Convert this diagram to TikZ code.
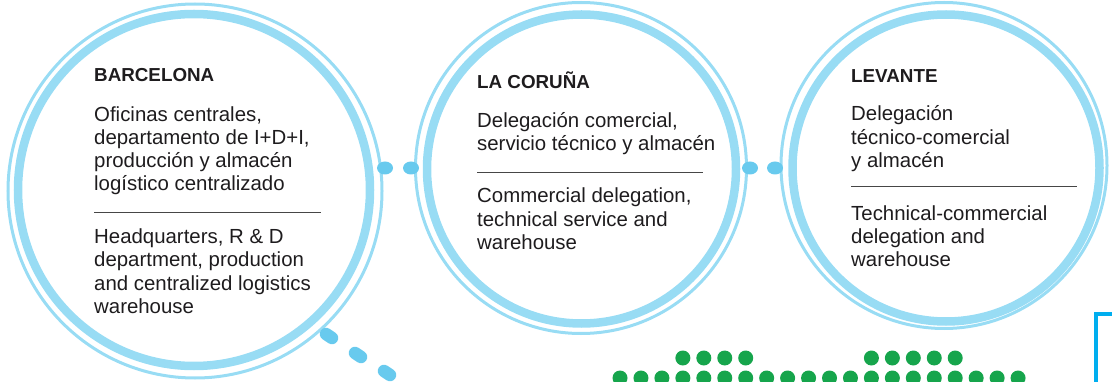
\documentclass[tikz,border=0pt]{standalone}
\usepackage{fontspec}
\setmainfont{Liberation Sans}
\definecolor{ring}{RGB}{152,220,244}
\definecolor{dotblue}{RGB}{104,202,238}
\definecolor{dotgreen}{RGB}{22,165,76}
\definecolor{brk}{RGB}{0,174,239}
\definecolor{txt}{RGB}{30,28,30}
\definecolor{rulegrey}{RGB}{70,70,70}
\begin{document}
\begin{tikzpicture}[x=1pt,y=-1pt,
  thinring/.style={draw=ring, line width=3pt},
  thickring/.style={draw=ring, line width=8.5pt},
  title/.style={anchor=base west, inner sep=0pt, text=txt, font={\fontsize{18.8}{22}\selectfont\bfseries}},
  body/.style={anchor=base west, inner sep=0pt, text=txt, align=left, font={\fontsize{20.4}{23.3}\selectfont}},
  sep/.style={draw=rulegrey, line width=1pt},
  capsule/.style={draw=dotblue, line width=12.5pt, line cap=round},
  gdot/.style={fill=dotgreen}
]
\useasboundingbox (0,0) rectangle (1112,382);
\clip (0,0) rectangle (1112,382);

% ---- rings ----
\draw[thinring] (195,191) circle (187pt);
\draw[thickring] (194,190) circle (176pt);
\draw[thinring] (581,168) circle (165.5pt);
\draw[thickring] (581.5,169) circle (154.5pt);
\draw[thinring] (944,165.5) circle (163pt);
\draw[thickring] (946,168) circle (153.5pt);

% ---- blue dot connectors ----
\fill[dotblue] (385,168) ellipse (8pt and 6.5pt);
\fill[dotblue] (411,168) ellipse (8pt and 6.5pt);
\fill[dotblue] (750,168) ellipse (8pt and 6.5pt);
\fill[dotblue] (775,168) ellipse (8pt and 6.5pt);

\coordinate (c1a) at (326,334); \coordinate (c1b) at (332,338);
\coordinate (c2a) at (355,353); \coordinate (c2b) at (361,357);
\coordinate (c3a) at (384,371); \coordinate (c3b) at (390,375);
\draw[capsule] (c1a) -- (c1b);
\draw[capsule] (c2a) -- (c2b);
\draw[capsule] (c3a) -- (c3b);

% ---- BARCELONA ----
\node[title] (bcnT) at (94,82) {BARCELONA};
\node[body] (bcnES) at (94,191) {Oficinas centrales,\\departamento de I+D+I,\\producción y almacén\\logístico centralizado};
\coordinate (bcnL1) at (94,213); \coordinate (bcnL2) at (321,213);
\draw[sep] (bcnL1) -- (bcnL2);
\node[body] (bcnEN) at (94,313.5) {Headquarters, R \& D\\department, production\\and centralized logistics\\warehouse};

% ---- LA CORUÑA ----
\node[title] (lcT) at (477,89) {LA CORUÑA};
\node[body] (lcES) at (477,150.5) {Delegación comercial,\\servicio técnico y almacén};
\coordinate (lcL1) at (477,173); \coordinate (lcL2) at (703,173);
\draw[sep] (lcL1) -- (lcL2);
\node[body] (lcEN) at (477,249.5) {Commercial delegation,\\technical service and\\warehouse};

% ---- LEVANTE ----
\node[title] (lvT) at (851,83) {LEVANTE};
\node[body] (lvES) at (851,167.5) {Delegación\\técnico-comercial\\y almacén};
\coordinate (lvL1) at (851,187); \coordinate (lvL2) at (1077,187);
\draw[sep] (lvL1) -- (lvL2);
\node[body] (lvEN) at (851,267) {Technical-commercial\\delegation and\\warehouse};

% ---- green dots ----
\foreach \i in {0,...,19} { \fill[gdot] (620+\i*20.95,378) circle (7.5pt); }
\foreach \i in {3,...,6} { \fill[gdot] (620+\i*20.95,358) circle (7.5pt); }
\foreach \i in {12,...,16} { \fill[gdot] (620+\i*20.95,358) circle (7.5pt); }

% ---- blue bracket ----
\coordinate (bkTop) at (1112,314);
\coordinate (bkCorner) at (1095.5,314);
\coordinate (bkBot) at (1095.5,390);
\draw[brk, line width=4pt] (bkTop) -- (bkCorner) -- (bkBot);
\end{tikzpicture}
\end{document}
